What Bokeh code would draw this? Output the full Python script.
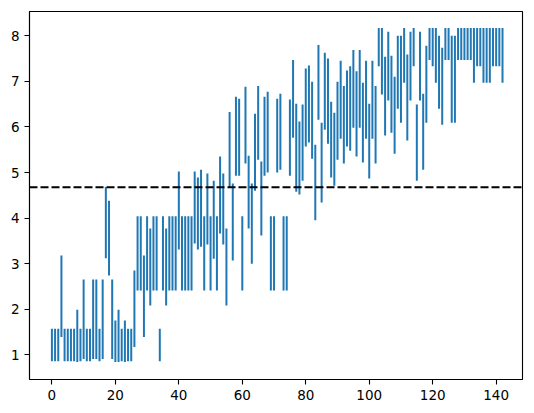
from bokeh.plotting import figure
from bokeh.models import Span, FixedTicker, Range1d, ColumnDataSource
from bokeh.embed import file_html
from bokeh.resources import INLINE

# x positions (categories 0..142)
xs = list(range(143))

# lower ends of the vertical lines
lo = [
    0.86, 0.86, 0.86, 1.39, 0.86, 0.86, 0.86, 0.86, 0.84, 0.86,
    0.91, 0.86, 0.86, 0.91, 0.91, 0.86, 0.91, 3.12, 2.74, 0.91,
    0.84, 0.84, 0.86, 0.84, 0.86, 0.86, 1.17, 2.41, 2.41, 1.39,
    2.41, 2.08, 2.41, 2.41, 0.86, 2.41, 2.08, 2.41, 2.41, 2.41,
    3.31, 2.41, 2.41, 2.41, 2.41, 3.44, 3.31, 3.37, 2.41, 3.42,
    2.41, 3.11, 2.41, 3.66, 3.42, 2.08, 4.68, 3.07, 4.93, 4.93,
    2.41, 5.20, 3.77, 3.00, 4.60, 5.28, 3.62, 4.93, 5.00, 2.41,
    2.41, 5.00, 5.06, 2.41, 2.41, 4.93, 5.76, 4.58, 4.52, 4.82,
    5.57, 5.66, 5.30, 3.95, 6.16, 4.34, 5.94, 5.63, 4.89, 4.71,
    5.28, 5.74, 5.20, 5.57, 5.48, 5.98, 5.35, 5.98, 5.22, 5.74,
    4.87, 5.74, 5.20, 7.33, 6.71, 5.81, 6.58, 5.87, 5.41, 6.40,
    6.09, 6.97, 5.70, 6.58, 7.33, 4.82, 6.58, 5.06, 6.09, 7.47,
    7.33, 6.97, 6.40, 6.05, 7.47, 7.47, 6.09, 6.09, 7.47, 7.47,
    7.47, 7.47, 7.47, 6.97, 7.33, 7.33, 6.97, 6.97, 6.97, 7.33,
    7.33, 7.33, 6.97,
]

# upper ends of the vertical lines
hi = [
    1.57, 1.57, 1.57, 3.18, 1.57, 1.57, 1.57, 1.57, 1.99, 1.57,
    2.65, 1.57, 1.57, 2.65, 2.65, 1.57, 2.65, 4.68, 4.38, 2.65,
    1.75, 1.99, 1.57, 1.75, 1.57, 1.57, 2.85, 4.04, 4.04, 3.18,
    4.04, 3.77, 4.04, 4.04, 1.57, 4.04, 3.77, 4.04, 4.04, 4.04,
    5.02, 4.04, 4.04, 4.04, 4.04, 5.02, 4.89, 5.06, 4.04, 4.98,
    4.04, 4.82, 4.04, 5.35, 4.98, 3.77, 6.33, 4.76, 6.66, 6.62,
    4.04, 6.88, 5.37, 4.76, 6.29, 6.90, 5.24, 6.66, 6.77, 4.04,
    4.04, 6.62, 6.73, 4.04, 4.04, 6.60, 7.47, 6.51, 6.12, 6.49,
    7.28, 7.35, 6.99, 5.61, 7.80, 6.09, 7.63, 7.50, 6.55, 6.31,
    6.99, 7.45, 6.90, 7.24, 7.33, 7.69, 7.22, 7.69, 6.97, 7.45,
    6.51, 7.45, 6.90, 8.17, 8.17, 7.54, 8.09, 7.56, 7.10, 8.00,
    8.00, 8.17, 7.59, 8.09, 8.17, 6.49, 8.09, 6.73, 7.78, 8.17,
    8.17, 8.17, 8.00, 7.74, 8.17, 8.17, 8.00, 8.00, 8.17, 8.17,
    8.17, 8.17, 8.17, 8.17, 8.17, 8.17, 8.17, 8.17, 8.17, 8.17,
    8.17, 8.17, 8.17,
]

threshold = 4.675

x_ticks = [0, 20, 40, 60, 80, 100, 120, 140]
y_ticks = [1, 2, 3, 4, 5, 6, 7, 8]

src = ColumnDataSource(data=dict(x=xs, lo=lo, hi=hi))

p = figure(
    frame_width=493, frame_height=368,
    x_range=Range1d(-7.06, 148.3), y_range=Range1d(0.458, 8.533),
    output_backend="svg", toolbar_location=None,
    min_border_left=29, min_border_right=4,
    min_border_top=11, min_border_bottom=30,
)

p.segment(x0="x", y0="lo", x1="x", y1="hi", source=src,
          line_color="#1f77b4", line_width=2)

p.add_layout(Span(location=threshold, dimension="width",
                  line_color="black", line_dash="8 3", line_width=2))

p.xgrid.visible = False
p.ygrid.visible = False
p.outline_line_color = "black"
p.outline_line_width = 1.1
p.outline_line_alpha = 1
p.background_fill_color = "white"
p.border_fill_color = "white"

p.xaxis.ticker = FixedTicker(ticks=x_ticks)
p.yaxis.ticker = FixedTicker(ticks=y_ticks)
for ax in (p.xaxis[0], p.yaxis[0]):
    ax.minor_tick_line_color = None
    ax.major_tick_in = 0
    ax.major_tick_out = 5
    ax.major_tick_line_width = 1.1
    ax.major_tick_line_color = "black"
    ax.axis_line_color = "black"
    ax.axis_line_width = 1.1
    ax.major_label_text_font = "DejaVu Sans"
    ax.major_label_text_font_size = "13.5px"
    ax.major_label_text_color = "black"
    ax.major_label_standoff = 5

open("out.html", "w").write(file_html(p, INLINE))
